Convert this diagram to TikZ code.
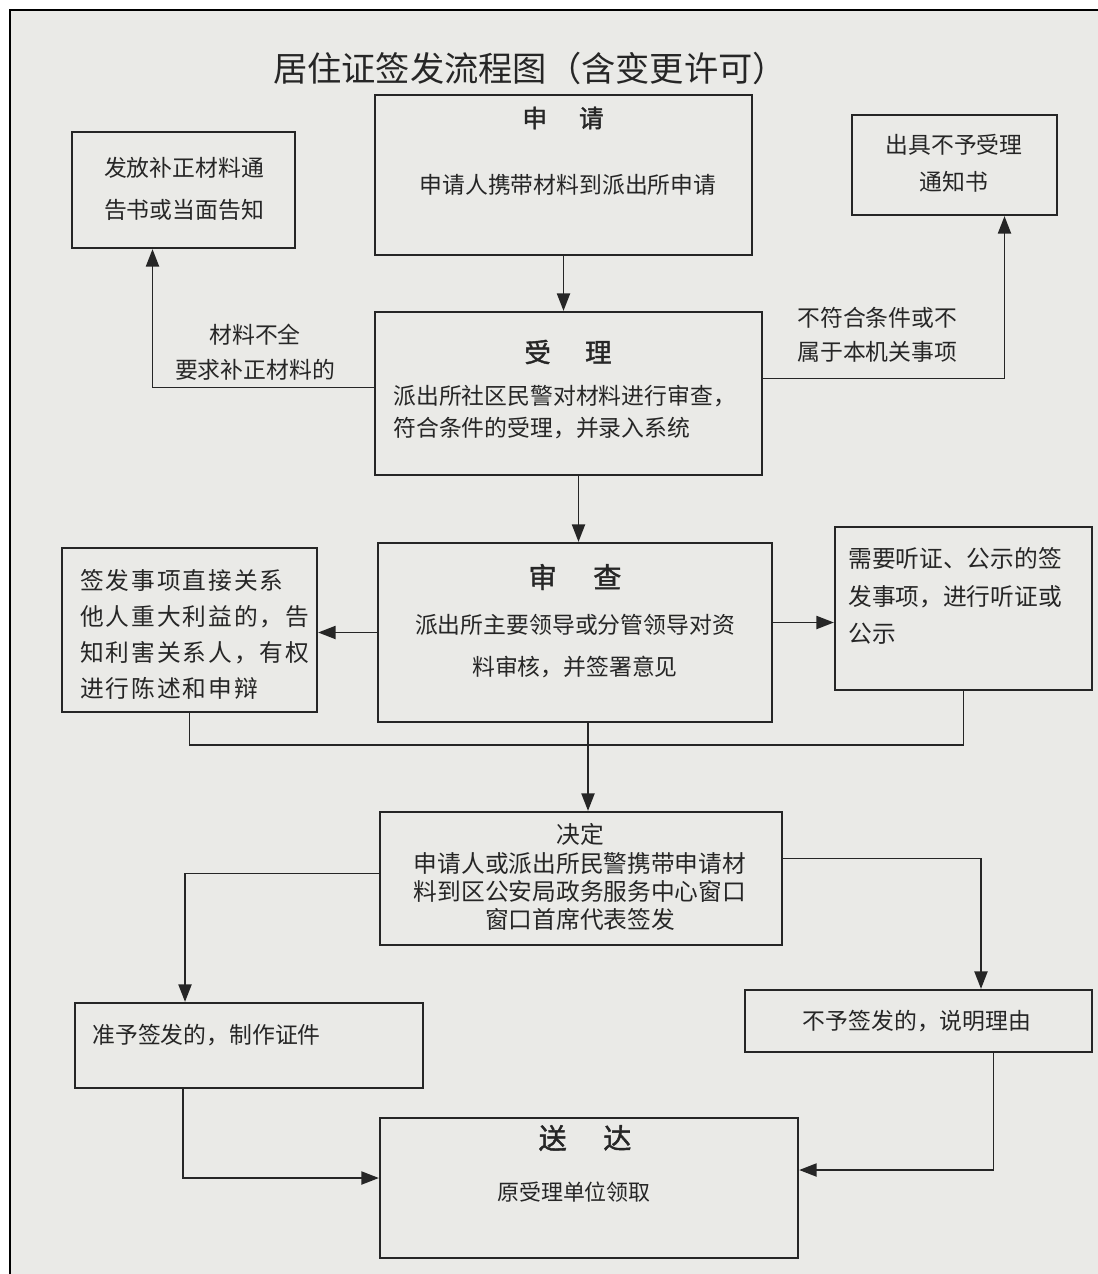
\documentclass[tikz,border=0pt]{standalone}
\usepackage{fontspec}
\usetikzlibrary{arrows.meta,fit,calc}
\newfontfamily\cjk{Noto Sans CJK SC}
\newfontfamily\cjkb[FakeBold=1.5]{Noto Sans CJK SC}
\newfontfamily\cjkw[LetterSpace=8]{Noto Sans CJK SC}
\definecolor{paper}{RGB}{234,234,231}
\definecolor{ink}{RGB}{38,38,38}
\begin{document}
\begin{tikzpicture}[x=0.02cm,y=-0.02cm,
  box/.style={draw=ink,line width=1.3pt,inner sep=0pt},
  txt/.style={font=\cjk\fontsize{13}{16}\selectfont,text=ink,inner sep=0pt,align=center},
  head/.style={font=\cjkb\fontsize{15}{18}\selectfont,text=ink,inner sep=0pt},
  conn/.style={draw=ink,line width=1pt},
  arr/.style={conn,-{Triangle[length=10pt,width=7.5pt]}}]
\useasboundingbox (0,0) rectangle (1098,1274);
\fill[white] (0,0) rectangle (1098,1274);
\fill[paper] (10,10) rectangle (1098,1274);
\draw[black,line width=1.5pt] (10,1274) -- (10,10) -- (1098,10);

% title
\node[txt,font=\cjk\fontsize{19.5}{24}\selectfont] (title) at (530,68) {居住证签发流程图（含变更许可）};

% boxes
\node[box,fit={(375,95)(752,255)}] (apply) {};
\node[box,fit={(72,132)(295,248)}] (fix) {};
\node[box,fit={(852,115)(1057,215)}] (notice) {};
\node[box,fit={(375,312)(762,475)}] (accept) {};
\node[box,fit={(378,543)(772,722)}] (review) {};
\node[box,fit={(62,548)(317,712)}] (notify) {};
\node[box,fit={(835,527)(1092,690)}] (hear) {};
\node[box,fit={(380,812)(782,945)}] (decide) {};
\node[box,fit={(75,1003)(423,1088)}] (grant) {};
\node[box,fit={(745,990)(1092,1052)}] (deny) {};
\node[box,fit={(380,1118)(798,1258)}] (deliver) {};

% texts
\node[head,font=\cjkb\fontsize{14}{16}\selectfont] (applyh) at (563,118) {申\hspace{1.3em}请};
\node[txt] (applyt) at (568,185) {申请人携带材料到派出所申请};
\node[txt,font=\cjk\fontsize{13}{24}\selectfont] (fixt) at (184,189) {发放补正材料通\\告书或当面告知};
\node[txt,font=\cjk\fontsize{13}{21}\selectfont] (noticet) at (954,163) {出具不予受理\\通知书};
\node[head] (accepth) at (568,352) {受\hspace{1.3em}理};
\node[txt,align=left,anchor=west,font=\cjk\fontsize{13}{18}\selectfont] (acceptt) at (393,412) {派出所社区民警对材料进行审查，\\符合条件的受理，并录入系统};
\node[txt,font=\cjk\fontsize{13}{20}\selectfont] (lab1) at (255,352) {材料不全\\要求补正材料的};
\node[txt,align=left,anchor=west,font=\cjk\fontsize{13}{19}\selectfont] (lab2) at (797,335) {不符合条件或不\\属于本机关事项};
\node[head,font=\cjkb\fontsize{16}{18}\selectfont] (reviewh) at (575,577) {审\hspace{1.3em}查};
\node[txt,font=\cjk\fontsize{13}{24}\selectfont] (reviewt) at (575,646) {派出所主要领导或分管领导对资\\料审核，并签署意见};
\node[txt,align=left,anchor=west,font=\cjkw\fontsize{13.5}{20.5}\selectfont] (notifyt) at (80,634) {签发事项直接关系\\他人重大利益的，告\\知利害关系人，有权\\进行陈述和申辩};
\node[txt,align=left,anchor=north west,font=\cjk\fontsize{13.5}{21.5}\selectfont] (heart) at (848,547) {需要听证、公示的签\\发事项，进行听证或\\公示};
\node[txt,font=\cjk\fontsize{13.5}{16}\selectfont] (decidet) at (580,877) {决定\\申请人或派出所民警携带申请材\\料到区公安局政务服务中心窗口\\窗口首席代表签发};
\node[txt,anchor=west] (grantt) at (92,1035) {准予签发的，制作证件};
\node[txt] (denyt) at (917,1021) {不予签发的，说明理由};
\node[head,font=\cjkb\fontsize{16}{18}\selectfont] (deliverh) at (585,1138) {送\hspace{1.3em}达};
\node[txt,font=\cjk\fontsize{12.5}{16}\selectfont] (delivert) at (574,1192) {原受理单位领取};

% connectors
\draw[arr] (apply.south) -- (apply.south |- accept.north);
\draw[arr] ([yshift=0.12cm]accept.west) -| ([xshift=-0.62cm]fix.south);
\draw[arr] ([yshift=0.3cm]accept.east) -| ([xshift=1.0cm]notice.south);
\draw[arr] ([xshift=0.2cm]accept.south) -- ([xshift=0.2cm]accept.south |- review.north);
\draw[arr] (review.west) -- (notify.east |- review.west);
\draw[arr] ([yshift=0.2cm]review.east) -- ([yshift=0.2cm]hear.west |- review.east);
\coordinate (mj) at (588,745);
\draw[conn] (notify.south) |- (mj) -| (hear.south);
\draw[arr] ([xshift=0.26cm]review.south) -- ([xshift=0.26cm]review.south |- decide.north);
\draw[arr] ([yshift=0.1cm]decide.west) -| ([xshift=-1.28cm]grant.north);
\draw[arr] ([yshift=0.4cm]decide.east) -| ([xshift=1.25cm]deny.north);
\draw[arr] ([xshift=-1.32cm]grant.south) |- ([yshift=0.2cm]deliver.west);
\draw[arr] ([xshift=1.5cm]deny.south) |- ([yshift=0.36cm]deliver.east);
\end{tikzpicture}
\end{document}
